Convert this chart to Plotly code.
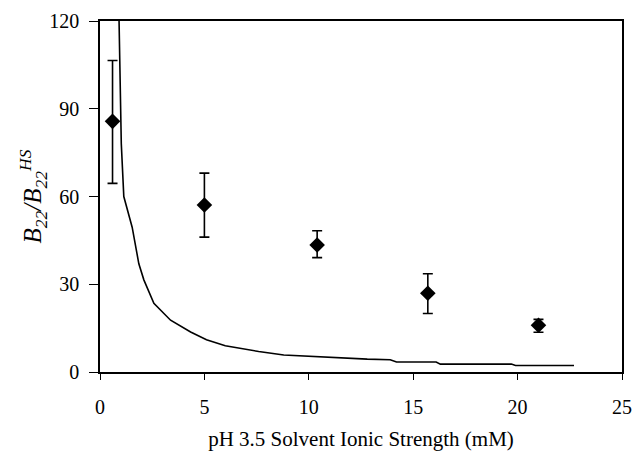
import plotly.graph_objects as go

# Measured data points (ionic strength in mM, B22/B22HS)
ionic_strength = [0.6, 5.0, 10.4, 15.7, 21.0]
b22_ratio = [85.7, 57.1, 43.4, 26.9, 16.0]
err_plus = [20.8, 10.9, 4.9, 6.7, 2.0]
err_minus = [21.2, 11.0, 4.3, 6.9, 2.4]

# Theoretical curve
curve_x = [0.9, 0.95, 1.02, 1.14, 1.54, 1.86, 2.1, 2.58, 3.38, 4.34, 5.1, 6.0,
           7.6, 8.8, 10.7, 12.8, 13.9, 14.2, 16.1, 16.3, 19.7, 19.9, 22.7]
curve_y = [125, 106, 78, 60, 49.5, 37, 31.5, 23.5, 17.7, 13.7, 11.0, 9.0,
           7.0, 5.8, 5.1, 4.4, 4.2, 3.4, 3.4, 2.7, 2.7, 2.2, 2.2]

x_ticks = [0, 5, 10, 15, 20, 25]
y_ticks = [0, 30, 60, 90, 120]

FONT = "Liberation Serif"

fig = go.Figure()
fig.add_trace(go.Scatter(
    x=curve_x, y=curve_y, mode="lines",
    line=dict(color="black", width=1.6), showlegend=False, hoverinfo="skip"))
fig.add_trace(go.Scatter(
    x=ionic_strength, y=b22_ratio, mode="markers",
    marker=dict(symbol="diamond", size=12, color="black"),
    error_y=dict(type="data", symmetric=False, array=err_plus, arrayminus=err_minus,
                 color="black", thickness=1.6, width=5),
    showlegend=False))

axis_common = dict(
    showline=True, linecolor="black", linewidth=1.6, mirror=True,
    ticks="outside", tickcolor="black", tickwidth=1,
    showgrid=False, zeroline=False, automargin=False,
    tickfont=dict(family=FONT, size=20, color="black"),
)

fig.update_xaxes(range=[0, 25], tickvals=x_ticks, ticklen=6, ticklabelstandoff=10,
                 title=dict(text="pH 3.5 Solvent Ionic Strength (mM)",
                            font=dict(family=FONT, size=21, color="black"),
                            standoff=15),
                 **axis_common)
fig.update_yaxes(range=[0, 120], tickvals=y_ticks, ticklen=9, ticklabelstandoff=6,
                 title=dict(text="<i>B<sub>22</sub>/B<sub>22</sub><sup>HS</sup></i>",
                            font=dict(family=FONT, size=25, color="black"),
                            standoff=0),
                 **axis_common)

fig.update_layout(
    width=632, height=455,
    margin=dict(l=100, r=10, t=21, b=83),
    paper_bgcolor="white", plot_bgcolor="white",
)

# remove the default page margin so the figure fills the window exactly
fig.write_html(
    "out.html",
    config={"displayModeBar": False},
    post_script="document.body.style.margin='0';document.body.style.overflow='hidden';",
)
